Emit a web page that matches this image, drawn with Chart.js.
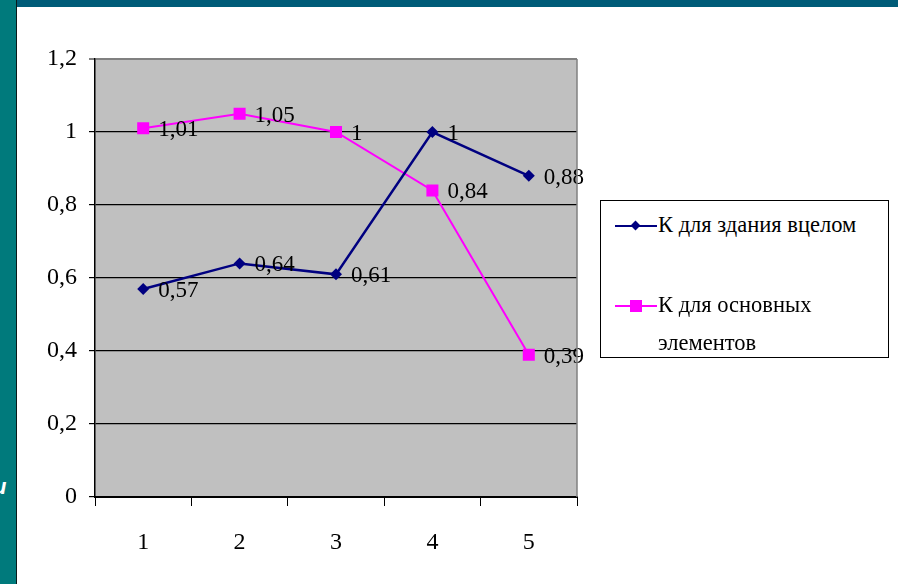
<!DOCTYPE html>
<html>
<head>
<meta charset="utf-8">
<script src="https://cdn.jsdelivr.net/npm/chart.js@4"></script>
<style>
  html, body { margin: 0; padding: 0; }
  body { width: 898px; height: 584px; position: relative; overflow: hidden; background: #fff; }
  #topbar { position: absolute; left: 0; top: 0; width: 898px; height: 7px; background: #005c78; }
  #leftbar { position: absolute; left: 0; top: 0; width: 16px; height: 584px; background: #007a7c; border-right: 1px solid #0a1a1a; }
  #stray { position: absolute; left: -7px; top: 474px; color: #fff; font: italic bold 22px "Liberation Sans", Arial, sans-serif; }
  #wrap { position: absolute; left: 17px; top: 7px; width: 881px; height: 577px; }
  #legend { position: absolute; left: 600px; top: 200px; width: 287px; height: 156px; border: 1px solid #000; background: #fff;
            font-family: 'Liberation Serif', 'DejaVu Serif', Tinos, 'Times New Roman', serif; font-size: 22.5px; color: #000; }
  .item { position: absolute; left: 14px; }
  .ln { position: absolute; left: 0; width: 42px; }
  .mk { position: absolute; }
  .txt { position: absolute; left: 43px; white-space: nowrap; line-height: 38px; }
</style>
</head>
<body>
<div id="topbar"></div>
<div id="leftbar"><span id="stray">и</span></div>
<div id="wrap"><canvas id="chart"></canvas></div>
<div id="legend">
  <div class="item" style="top:25px">
    <div class="ln" style="top:-1px;height:2px;background:#000080"></div>
    <div class="mk" style="left:17px;top:-4px;width:7px;height:7px;background:#000080;transform:rotate(45deg)"></div>
    <div class="txt" style="top:-20px">К для здания вцелом</div>
  </div>
  <div class="item" style="top:105px">
    <div class="ln" style="top:-1px;height:2px;background:#ff00ff"></div>
    <div class="mk" style="left:15px;top:-6px;width:12px;height:12px;background:#ff00ff"></div>
    <div class="txt" style="top:-20px">К для основных<br>элементов</div>
  </div>
</div>
<script>
// values
const categories = ['1', '2', '3', '4', '5'];
const buildingTotal = [0.57, 0.64, 0.61, 1, 0.88];
const mainElements = [1.01, 1.05, 1, 0.84, 0.39];
const yTicks = [0, 0.2, 0.4, 0.6, 0.8, 1, 1.2];

const fmt = v => String(Math.round(v * 100) / 100).replace('.', ',');
const serif = "'Liberation Serif', 'DejaVu Serif', Tinos, 'Times New Roman', serif";

// grey plot background + grey right edge
const plotBg = {
  id: 'plotBg',
  beforeDraw(chart) {
    const { ctx, chartArea: a } = chart;
    ctx.save();
    ctx.fillStyle = '#c0c0c0';
    ctx.fillRect(a.left, a.top, a.right - a.left, a.bottom - a.top);
    ctx.restore();
  },
  afterDraw(chart) {
    const { ctx, chartArea: a } = chart;
    ctx.save();
    ctx.strokeStyle = '#808080';
    ctx.lineWidth = 1.5;
    ctx.beginPath();
    ctx.moveTo(a.right, a.top);
    ctx.lineTo(a.right, a.bottom);
    ctx.stroke();
    ctx.restore();
  }
};

// value labels to the right of every point
const valueLabels = {
  id: 'valueLabels',
  afterDatasetsDraw(chart) {
    const ctx = chart.ctx;
    ctx.save();
    ctx.font = '23px ' + serif;
    ctx.fillStyle = '#000';
    ctx.textBaseline = 'middle';
    ctx.textAlign = 'left';
    chart.data.datasets.forEach((ds, i) => {
      chart.getDatasetMeta(i).data.forEach((pt, j) => {
        ctx.fillText(fmt(ds.data[j]), pt.x + 15, pt.y + 2);
      });
    });
    ctx.restore();
  }
};

new Chart(document.getElementById('chart'), {
  type: 'line',
  data: {
    labels: categories,
    datasets: [
      {
        label: 'К для здания вцелом',
        data: buildingTotal,
        borderColor: '#000080',
        backgroundColor: '#000080',
        borderWidth: 2.5,
        pointStyle: 'rectRot',
        pointRadius: 6,
        pointBorderWidth: 0,
        tension: 0
      },
      {
        label: 'К для основных элементов',
        data: mainElements,
        borderColor: '#ff00ff',
        backgroundColor: '#ff00ff',
        borderWidth: 2,
        pointStyle: 'rect',
        pointRadius: 8.5,
        pointBorderWidth: 0,
        tension: 0
      }
    ]
  },
  options: {
    responsive: true,
    maintainAspectRatio: false,
    animation: false,
    layout: { padding: { left: 0, top: 52, right: 321, bottom: 0 } },
    plugins: { legend: { display: false }, tooltip: { enabled: false } },
    scales: {
      x: {
        offset: true,
        afterFit(s) { s.height = 87; },
        grid: { offset: true, drawOnChartArea: false, drawTicks: true, tickLength: 9, color: '#000', lineWidth: 1 },
        border: { color: '#000', width: 2 },
        ticks: { color: '#000', font: { family: serif, size: 24 }, padding: 22 }
      },
      y: {
        min: 0,
        max: 1.2,
        afterFit(s) { s.width = 78; },
        afterBuildTicks(s) { s.ticks = yTicks.map(v => ({ value: v })); },
        grid: {
          color: c => (c.tick && c.tick.value === 1.2) ? '#808080' : '#000',
          lineWidth: c => (c.tick && c.tick.value === 1.2) ? 2 : 1.2,
          tickLength: 6
        },
        border: { color: '#000', width: 1.5 },
        ticks: { color: '#000', font: { family: serif, size: 24 }, padding: 12, callback: v => fmt(v) }
      }
    }
  },
  plugins: [plotBg, valueLabels]
});
</script>
</body>
</html>
